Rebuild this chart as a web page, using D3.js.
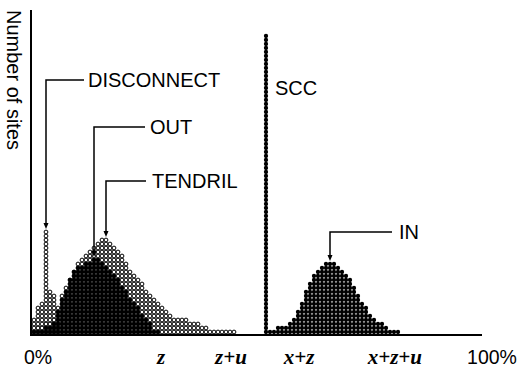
<!DOCTYPE html>
<html><head><meta charset="utf-8">
<script src="https://cdn.jsdelivr.net/npm/d3@7"></script>
<style>body{margin:0;background:#fff}svg{display:block}</style>
</head><body>
<svg id="c" width="520" height="373"></svg>
<script>
// ---- data (dots per bin, bins are equal-width slices of the 0%..100% axis) ----
const nBins = 92;
const disconnectStart = 0;
const disconnectCounts = [4,7,8,26,11,10,3];
const tendrilStart = 0;
const tendrilCounts = [1,2,2,3,3,4,7,10,12,14,16,18,19,20,21,22,23,24,24,23,22,21,20,18,16,15,14,13,11,10,9,8,7,6,5,4,4,4,4,3,3,3,2,2,1,1,1,1,1,1,1];
const outStart = 0;
const outCounts = [1,1,1,2,2,3,6,9,11,14,16,17,17,18,18,19,19,18,17,16,15,14,12,11,9,8,7,5,4,3,1,1];
const sccBin = 58;
const sccCount = 75;
const inStart = 59;
const inCounts = [1,1,2,2,2,3,4,6,8,11,13,15,16,17,18,18,18,17,16,15,14,12,10,8,7,5,4,3,3,2,1,1,1];
const tickLabels = ["0%","z","z+u","x+z","x+z+u","100%"];
const tickPos = [0,27.1,42.5,57.5,78.6,100];
const tickItalic = [false,true,true,true,true,false];

const svg = d3.select("#c");
const x = d3.scaleBand().domain(d3.range(nBins)).range([32, 32 + 4*nBins]);
const y = d3.scaleLinear().domain([0, 80]).range([334, 14]);
const pct = d3.scaleLinear().domain([0, 100]).range([38, 492]);
const cx = i => x(i) + x.bandwidth()/2;
const cy = k => y(k + 0.5);

function dots(start, counts) {
  const out = [];
  counts.forEach((n, j) => { for (let k = 0; k < n; k++) out.push({i: start + j, k}); });
  return out;
}

// open circles
const openDots = dots(tendrilStart, tendrilCounts).concat(dots(disconnectStart, disconnectCounts));
svg.append("g").selectAll("circle").data(openDots).join("circle")
  .attr("cx", d => cx(d.i)).attr("cy", d => cy(d.k)).attr("r", 1.9)
  .attr("fill", "#fff").attr("stroke", "#000").attr("stroke-width", 1);

// filled dots
const filledDots = dots(outStart, outCounts).concat(dots(inStart, inCounts), dots(sccBin, [sccCount]));
svg.append("g").selectAll("circle").data(filledDots).join("circle")
  .attr("cx", d => cx(d.i)).attr("cy", d => cy(d.k)).attr("r", 2.15)
  .attr("fill", "#000");

// axes
svg.append("line").attr("x1", 31).attr("x2", 31).attr("y1", 10).attr("y2", 336)
  .attr("stroke", "#000").attr("stroke-width", 2);
svg.append("line").attr("x1", 30).attr("x2", 482).attr("y1", 335).attr("y2", 335)
  .attr("stroke", "#000").attr("stroke-width", 2);

svg.append("text").attr("transform", "translate(7,10) rotate(90)")
  .attr("font-family", "Liberation Sans, Arial, sans-serif").attr("font-size", 20)
  .text("Number of sites");

svg.append("g").selectAll("text").data(tickLabels).join("text")
  .attr("x", (d, i) => pct(tickPos[i])).attr("y", 364)
  .attr("text-anchor", "middle")
  .attr("font-family", (d, i) => tickItalic[i] ? "Liberation Serif, Times New Roman, serif" : "Liberation Sans, Arial, sans-serif")
  .attr("font-style", (d, i) => tickItalic[i] ? "italic" : "normal")
  .attr("font-weight", (d, i) => tickItalic[i] ? "bold" : "normal")
  .attr("font-size", (d, i) => tickItalic[i] ? 21 : 19.5)
  .text(d => d);

// annotations
const ann = [
  {label: "DISCONNECT", bin: disconnectStart + 3, top: disconnectCounts[3], ly: 80, hx: 84, tx: 88},
  {label: "OUT", bin: outStart + 15, top: outCounts[15], ly: 127, hx: 145, tx: 150},
  {label: "TENDRIL", bin: tendrilStart + 18, top: tendrilCounts[18], ly: 181, hx: 146, tx: 152},
  {label: "IN", bin: inStart + 15, top: inCounts[15], ly: 232, hx: 392, tx: 399}
];
const g = svg.append("g");
ann.forEach(a => {
  const ax = cx(a.bin);
  const tip = y(a.top) - 1;
  g.append("path").attr("d", `M${ax},${tip - 4}V${a.ly}H${a.hx}`)
    .attr("fill", "none").attr("stroke", "#000").attr("stroke-width", 1.5);
  g.append("path").attr("d", `M${ax - 2.5},${tip - 6}L${ax + 2.5},${tip - 6}L${ax},${tip}Z`).attr("fill", "#000");
  g.append("text").attr("x", a.tx).attr("y", a.ly).attr("dy", "0.36em")
    .attr("font-family", "Liberation Sans, Arial, sans-serif").attr("font-size", 20)
    .text(a.label);
});
svg.append("text").attr("x", 275).attr("y", 88).attr("dy", "0.36em")
  .attr("font-family", "Liberation Sans, Arial, sans-serif").attr("font-size", 20)
  .text("SCC");
</script>
</body></html>
